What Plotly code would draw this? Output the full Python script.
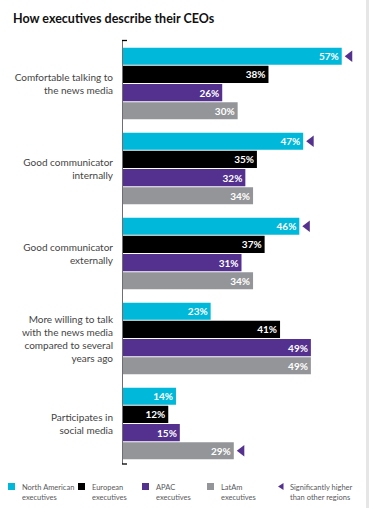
import plotly.graph_objects as go

# ---------------- data ----------------
categories = [
    "Comfortable talking to<br>the news media",
    "Good communicator<br>internally",
    "Good communicator<br>externally",
    "More willing to talk<br>with the news media<br>compared to several<br>years ago",
    "Participates in<br>social media",
]
series_names = ["North American<br>executives", "European<br>executives",
                "APAC<br>executives", "LatAm<br>executives"]
north_american = [57, 47, 46, 23, 14]
european = [38, 35, 37, 41, 12]
apac = [26, 32, 31, 49, 15]
latam = [30, 34, 34, 49, 29]
# significantly higher than other regions (per series, per category)
sig_north_american = [True, True, True, False, False]
sig_european = [False, False, False, False, False]
sig_apac = [False, False, False, False, False]
sig_latam = [False, False, False, False, True]
sig_label = "Significantly higher<br>than other regions"
title_text = "How executives describe their CEOs"

# ---------------- style ----------------
colors = ["#00b8d9", "#000000", "#54318f", "#939598"]
tri_color = "#54318f"
font_family = "Lato, Roboto, sans-serif"
W, H = 369, 508
L, R, T, B = 122, 8, 41, 42
XMAX = 62
pitch = 0.214
bar_w = 0.202

values = [north_american, european, apac, latam]
sigs = [sig_north_american, sig_european, sig_apac, sig_latam]

plot_w = W - L - R
plot_h = H - T - B
px_per_unit = plot_w / XMAX


def px_x(p):
    return (p - L) / plot_w


def px_y(q):
    return (H - B - q) / plot_h


fig = go.Figure()
n_series = len(values)
for j, (vals, col, name) in enumerate(zip(values, colors, series_names)):
    ys = [i + (j - (n_series - 1) / 2) * pitch for i in range(len(categories))]
    fig.add_trace(go.Bar(
        x=vals, y=ys, orientation="h", width=bar_w,
        marker=dict(color=col, line=dict(width=0)),
        text=[f"{v}%" for v in vals], textposition="inside",
        insidetextanchor="end",
        textfont=dict(color="white", size=10, family=font_family, weight="bold"),
        name=name, showlegend=False, hoverinfo="skip",
    ))
    tx = [v + 8 / px_per_unit for v, s in zip(vals, sigs[j]) if s]
    ty = [y for y, s in zip(ys, sigs[j]) if s]
    if tx:
        fig.add_trace(go.Scatter(
            x=tx, y=ty, mode="markers",
            marker=dict(symbol="triangle-left", size=10, color=tri_color),
            showlegend=False, hoverinfo="skip", cliponaxis=False,
        ))

shapes = []
# axis line with end ticks
shapes.append(dict(type="line", xref="x", yref="paper", x0=0, x1=0,
                   y0=px_y(464), y1=px_y(40), line=dict(color="#6d6e71", width=2),
                   layer="above"))
for q in (40.5, 464):
    shapes.append(dict(type="line", xref="x", yref="paper", x0=-0.1,
                       x1=5 / px_per_unit, y0=px_y(q), y1=px_y(q),
                       line=dict(color="#000000", width=1.3), layer="above"))
# right page border band
shapes.append(dict(type="rect", xref="paper", yref="paper",
                   x0=px_x(366), x1=px_x(370), y0=px_y(H + 2), y1=px_y(-2),
                   fillcolor="#e6e6e6", line=dict(width=0)))

annotations = []
# legend
leg_sq_x = [8, 78, 142, 207]
for sx, col, name in zip(leg_sq_x, colors, series_names):
    shapes.append(dict(type="rect", xref="paper", yref="paper",
                       x0=px_x(sx), x1=px_x(sx + 7), y0=px_y(490), y1=px_y(483),
                       fillcolor=col, line=dict(width=0)))
    annotations.append(dict(xref="paper", yref="paper", x=px_x(sx + 12),
                            y=px_y(481.5), xanchor="left", yanchor="top",
                            text=name, showarrow=False, align="left",
                            font=dict(size=7.5, color="#58595b", family=font_family)))
shapes.append(dict(type="path", xref="paper", yref="paper",
                   path=f"M {px_x(278)},{px_y(486.5)} L {px_x(283.5)},{px_y(483)} "
                        f"L {px_x(283.5)},{px_y(490)} Z",
                   fillcolor=tri_color, line=dict(width=0)))
annotations.append(dict(xref="paper", yref="paper", x=px_x(288), y=px_y(481.5),
                        xanchor="left", yanchor="top", text=sig_label,
                        showarrow=False, align="left",
                        font=dict(size=7.5, color="#58595b", family=font_family)))

fig.update_layout(
    width=W, height=H,
    margin=dict(l=L, r=R, t=T, b=B, pad=0),
    paper_bgcolor="white", plot_bgcolor="white",
    title=dict(text=f"<b>{title_text}</b>", x=13 / W, xanchor="left",
               xref="container", yref="container", y=1 - 19 / H, yanchor="middle",
               font=dict(size=12.5, color="#111111", family=font_family)),
    xaxis=dict(range=[0, XMAX], showgrid=False, zeroline=False, showline=False,
               showticklabels=False, ticks="", fixedrange=True),
    yaxis=dict(range=[len(categories) - 0.5, -0.5], tickvals=list(range(len(categories))),
               ticktext=categories, showgrid=False, zeroline=False, showline=False,
               ticks="", ticklabelstandoff=8,
               tickfont=dict(size=10, color="#444444", family=font_family),
               fixedrange=True),
    shapes=shapes, annotations=annotations,
    uniformtext=dict(minsize=10, mode="show"),
    showlegend=False,
    hovermode=False,
)

fig.write_html(
    "out.html",
    config=dict(displayModeBar=False, staticPlot=True),
    post_script="document.body.style.margin='0';document.body.style.overflow='hidden';",
)
